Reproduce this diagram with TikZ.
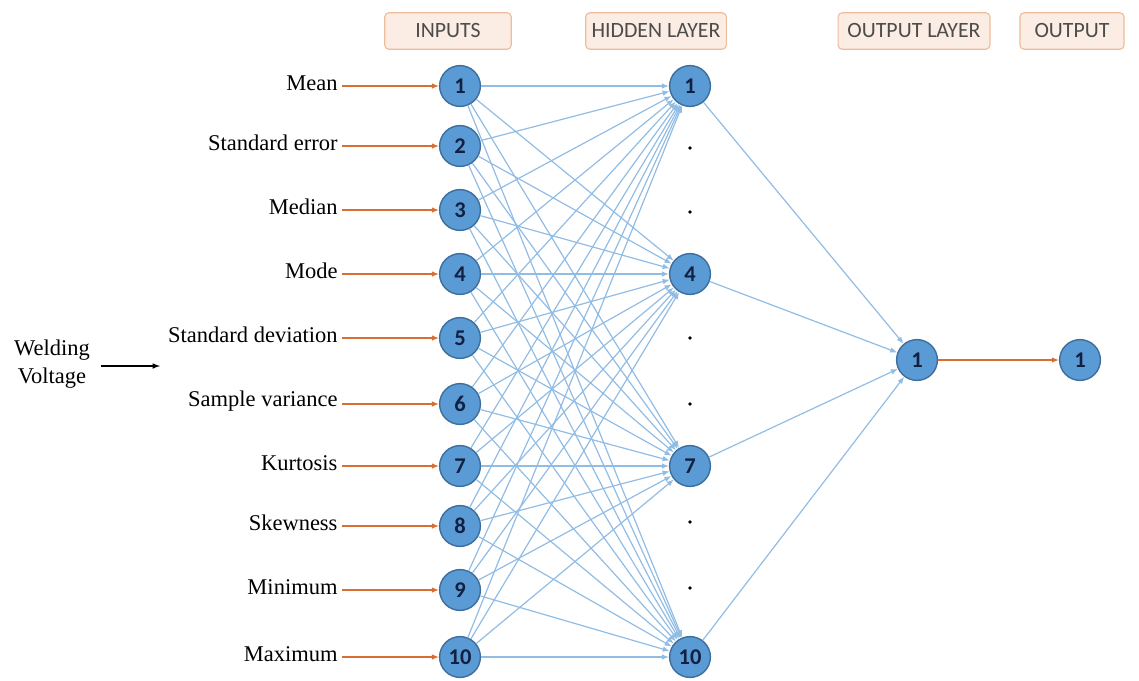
\documentclass[tikz,border=0pt]{standalone}
\usepackage{fontspec}
\setmainfont{Liberation Serif}
\newfontfamily\calfont{Carlito}
\usepackage{tikz}
\usetikzlibrary{positioning}
\usetikzlibrary{arrows.meta}
\definecolor{nodefill}{RGB}{91,155,213}
\definecolor{nodeline}{RGB}{62,110,155}
\definecolor{numcol}{RGB}{18,32,66}
\definecolor{linkcol}{RGB}{145,188,228}
\definecolor{feedcol}{RGB}{212,112,52}
\definecolor{headfill}{RGB}{252,237,228}
\definecolor{headline}{RGB}{238,188,156}
\tikzset{>=latex,
  neuron/.style={circle, draw=nodeline, fill=nodefill, line width=1pt,
    minimum size=29pt, inner sep=0pt, text=numcol,
    font=\calfont\bfseries\fontsize{16}{16}\selectfont},
  header/.style={rectangle, rounded corners=3pt, draw=headline, fill=headfill,
    line width=0.8pt, minimum height=26pt, text=black!70,
    font=\calfont\fontsize{15.5}{15.5}\selectfont},
  featname/.style={anchor=east, inner sep=3pt, font=\rmfamily\fontsize{16}{17}\selectfont},
  feed/.style={-{Latex[length=5pt,width=4pt]}, feedcol, line width=0.9pt},
  link/.style={-{Latex[length=5pt,width=4pt]}, linkcol, line width=0.85pt}
}

\begin{document}
\begin{tikzpicture}[x=0.025cm, y=-0.025cm]
\useasboundingbox (0,0) rectangle (1139,680);

% Layer headers
\node[header, minimum width=90pt] (hinp) at (448,31) {INPUTS};
\node[header, minimum width=100pt] (hhid) at (656,31) {HIDDEN LAYER};
\node[header, minimum width=108pt] (hout) at (914,31) {OUTPUT LAYER};
\node[header, minimum width=74pt] (hres) at (1072,31) {OUTPUT};

% Input neurons and features
\foreach \n/\y/\txt in {1/86/Mean, 2/146/Standard error, 3/210/Median,
    4/274/Mode, 5/338/Standard deviation, 6/404/Sample variance,
    7/466/Kurtosis, 8/526/Skewness, 9/590/Minimum, 10/657/Maximum} {
  \node[neuron] (in\n) at (460,\y) {\n};
  \node[featname] (f\n) at (342,\y-3) {\txt};
  \draw[feed] (f\n.east |- in\n) -- (in\n);
}

% Hidden neurons
\foreach \n/\y in {1/86, 4/274, 7/466, 10/657}
  \node[neuron] (h\n) at (690,\y) {\n};

% Dots between hidden neurons
\foreach \y in {148, 212, 338, 404, 522, 588}
  \fill (690,\y) circle (1.3pt);

% Output neurons
\node[neuron] (o1) at (917,360) {1};
\node[neuron] (y1) at (1080,360) {1};

% Connections
\foreach \i in {1,...,10}
  \foreach \j in {1,4,7,10}
    \draw[link] (in\i) -- (h\j);
\foreach \j in {1,4,7,10}
  \draw[link] (h\j) -- (o1);
\draw[feed] (o1) -- (y1);

% Signal source
\node[align=center, font=\rmfamily\fontsize{16}{20}\selectfont] (wv) at (52,364) {Welding\\Voltage};
\coordinate (wvend) at (160,366);
\draw[->, line width=0.8pt] (wv.east |- wvend) ++(6,0) -- (wvend);

\end{tikzpicture}
\end{document}
